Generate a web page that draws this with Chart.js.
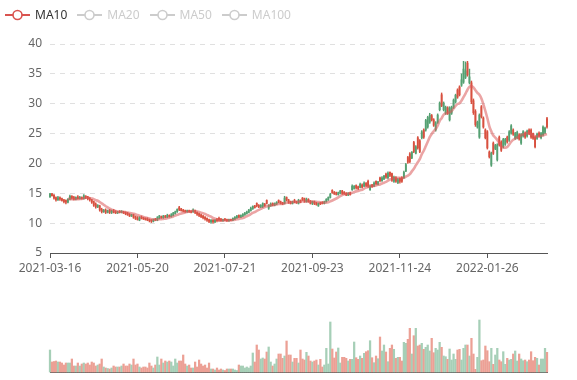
<!DOCTYPE html>
<html><head><meta charset="utf-8">
<script src="https://cdn.jsdelivr.net/npm/chart.js@4.4.1/dist/chart.umd.min.js"></script>
<style>
html,body{margin:0;padding:0;background:#fff;}
#wrap{position:relative;width:577px;height:380px;overflow:hidden;font-family:"Noto Sans",sans-serif;}
#price{position:absolute;left:0;top:0;}
#vol{position:absolute;left:0;top:300px;}
#legend{position:absolute;left:5px;top:8px;height:14px;display:flex;gap:10px;align-items:center;font-size:12px;}
.item{display:flex;align-items:center;height:14px;line-height:14px;}
.item svg{margin-right:5px;display:block;}
</style></head><body>
<div id="wrap">
<canvas id="price" width="577" height="290"></canvas>
<canvas id="vol" width="577" height="80"></canvas>
<div id="legend"></div>
</div>
<script>
// ---- data ----
const tickLabels = ['2021-03-16','2021-05-20','2021-07-21','2021-09-23','2021-11-24','2022-01-26'];
const maNames = ['MA10','MA20','MA50','MA100'];
const maVisible = [true,false,false,false];

const opens = [
14.4,14.9,14.7,14.3,13.9,14.3,14.1,13.9,13.8,13.5,
14.0,14.5,14.3,14.0,14.4,14.1,14.3,14.1,14.5,14.4,
14.2,13.9,13.6,13.2,12.7,12.9,12.3,11.9,12.2,11.8,
12.2,11.8,12.1,11.9,11.7,12.0,11.8,11.9,11.8,11.7,
11.5,11.2,11.4,11.1,10.9,10.5,11.0,10.9,10.8,10.7,
10.6,10.5,10.3,10.7,10.5,10.8,11.1,10.9,11.2,11.0,
11.3,11.1,11.3,11.6,11.9,12.6,12.4,12.2,12.1,11.9,
12.1,12.0,11.9,12.1,11.8,11.6,11.4,11.2,11.0,10.8,
10.6,10.2,10.5,10.2,10.6,10.8,10.7,10.4,10.7,10.6,
10.4,10.6,10.5,10.7,10.9,11.3,11.0,11.2,11.4,11.6,
11.8,12.1,12.4,12.9,13.3,13.0,12.7,12.8,13.2,13.8,
12.5,12.9,13.3,13.0,13.2,13.8,13.6,13.4,13.3,14.3,
13.9,13.6,13.3,13.8,13.6,13.3,13.8,14.2,14.1,13.6,
14.0,13.7,13.3,13.6,13.4,12.9,13.4,13.5,13.3,13.6,
13.9,14.3,15.5,15.2,15.1,14.8,15.0,15.4,15.2,15.0,
14.7,15.1,15.6,15.8,16.3,16.1,16.0,16.4,16.2,16.7,
17.0,15.6,16.4,16.2,17.0,16.5,17.6,17.1,17.4,18.2,
17.6,18.5,18.3,17.0,17.6,16.8,17.5,17.6,17.6,18.7,
21.0,21.6,20.9,23.5,21.7,24.3,23.8,24.3,25.6,25.6,
26.1,26.9,28.0,27.3,25.6,26.9,29.0,31.5,29.0,28.4,
29.3,27.3,28.4,29.4,30.3,32.3,32.8,33.1,33.6,34.4,
36.8,33.5,33.5,30.5,28.7,26.1,24.4,29.5,27.6,25.6,
25.3,21.9,19.7,23.4,22.5,20.6,24.4,23.6,22.8,23.2,
24.4,23.9,25.1,25.6,24.2,24.3,24.8,23.4,24.6,25.1,
24.6,25.6,25.6,25.0,24.4,24.2,25.1,24.3,24.8,25.2,
27.5];

const closes = [
14.9,14.6,14.2,13.9,14.3,14.0,13.8,13.6,13.5,14.0,
14.5,14.2,14.0,14.3,14.1,14.3,14.1,14.6,14.3,14.1,
13.9,13.5,13.0,12.7,13.0,12.2,11.9,12.2,11.8,12.1,
11.8,12.0,11.8,11.7,11.9,11.8,12.0,11.7,11.6,11.4,
11.2,11.4,11.0,10.8,10.6,10.9,10.8,10.7,10.6,10.5,
10.4,10.3,10.6,10.5,10.9,11.2,10.9,11.2,11.0,11.3,
11.1,11.4,11.7,11.9,12.3,12.3,12.1,12.0,11.9,12.1,
11.9,11.8,12.2,11.8,11.5,11.3,11.1,10.9,10.7,10.5,
10.3,10.5,10.2,10.5,10.4,10.5,10.4,10.6,10.5,10.4,
10.6,10.5,10.8,11.0,11.2,11.0,11.3,11.5,11.7,11.9,
12.2,12.5,12.8,12.6,12.9,12.7,13.0,13.3,12.9,13.3,
13.0,13.2,13.0,13.3,13.5,13.5,13.3,13.2,14.2,13.9,
13.5,13.3,13.6,13.5,13.4,13.8,13.5,13.9,13.7,14.0,
13.6,13.3,13.6,13.3,13.1,13.3,13.2,13.3,13.6,14.0,
14.3,14.8,15.1,14.9,14.8,15.1,15.4,15.0,14.9,14.7,
15.0,14.8,16.2,16.2,15.9,15.8,16.5,16.0,16.7,16.3,
16.2,16.2,16.1,16.7,16.6,16.9,17.1,17.6,17.9,17.7,
18.4,18.0,17.2,17.7,17.0,17.3,17.0,17.0,18.5,19.8,
20.2,20.3,21.9,22.0,22.8,22.6,22.0,25.3,24.4,27.2,
27.7,28.1,27.3,26.4,26.8,28.1,30.1,29.7,30.1,29.4,
28.4,29.3,29.4,30.6,31.4,31.1,31.5,34.0,35.8,35.5,
34.8,34.5,30.3,28.5,26.5,26.9,28.1,27.8,26.1,24.3,
22.6,21.1,21.7,21.7,23.0,23.1,23.1,22.2,24.0,24.0,
23.6,25.3,26.3,24.9,25.0,25.2,24.1,24.8,25.3,24.4,
25.4,25.0,24.4,24.2,22.8,24.9,24.6,25.0,26.1,25.9,
26.1];

const lows = [
14.3,14.5,14.0,13.7,13.8,13.8,13.7,13.4,13.2,13.4,
13.9,14.0,13.9,13.9,14.0,14.0,14.0,14.0,14.1,13.9,
13.7,13.3,12.8,12.5,12.6,12.0,11.7,11.8,11.6,11.7,
11.6,11.6,11.7,11.6,11.6,11.7,11.7,11.6,11.4,11.3,
11.1,11.1,10.8,10.6,10.5,10.4,10.7,10.6,10.5,10.4,
10.2,10.1,10.2,10.4,10.4,10.7,10.8,10.8,10.9,10.9,
11.0,11.0,11.2,11.5,11.8,12.1,12.0,11.9,11.8,11.8,
11.8,11.7,11.8,11.6,11.3,11.1,10.9,10.7,10.5,10.3,
10.1,10.0,10.0,10.1,10.2,10.3,10.3,10.3,10.4,10.3,
10.3,10.4,10.4,10.6,10.8,10.9,10.9,11.1,11.3,11.5,
11.7,12.0,12.3,12.5,12.7,12.6,12.6,12.6,12.8,13.2,
12.3,12.8,12.9,12.9,13.1,13.4,13.2,13.1,13.2,13.7,
13.3,13.2,13.2,13.4,13.3,13.2,13.4,13.8,13.5,13.5,
13.5,13.2,13.1,13.1,13.0,12.8,13.1,13.2,13.2,13.5,
13.8,14.2,15.0,14.8,14.7,14.7,14.9,14.8,14.8,14.6,
14.6,14.7,15.5,15.7,15.7,15.6,15.9,15.9,16.1,16.1,
16.0,15.5,16.0,16.1,16.4,16.4,16.9,17.0,17.3,17.5,
17.4,17.8,17.0,16.8,16.8,16.6,16.7,16.8,17.5,18.6,
20.0,20.1,20.8,21.8,21.6,22.4,21.8,24.1,24.2,25.4,
25.9,26.7,27.1,26.2,25.4,26.7,28.8,29.5,28.8,28.2,
28.2,27.1,28.2,29.2,30.1,30.9,31.3,32.9,33.4,34.2,
34.6,33.3,30.0,28.2,26.2,25.9,24.2,27.6,25.9,24.1,
22.4,20.9,19.5,21.5,22.3,20.4,22.9,22.0,22.6,23.0,
23.4,23.7,24.9,24.7,24.0,24.1,23.9,23.2,24.4,24.2,
24.4,24.8,24.2,24.0,22.6,24.0,24.4,24.1,24.6,25.0,
25.9];

const highs = [
15.0,15.0,14.8,14.4,14.5,14.4,14.2,14.0,13.9,14.1,
14.7,14.6,14.5,14.4,14.6,14.5,14.4,14.8,14.6,14.5,
14.3,14.0,13.7,13.4,13.1,13.0,12.5,12.3,12.4,12.2,
12.3,12.2,12.3,12.1,12.0,12.1,12.1,12.0,11.9,11.8,
11.6,11.5,11.5,11.2,11.1,11.1,11.2,11.0,10.9,10.9,
10.7,10.6,10.7,10.8,11.1,11.3,11.2,11.3,11.3,11.5,
11.4,11.6,11.8,12.0,12.4,12.8,12.5,12.3,12.2,12.2,
12.2,12.1,12.4,12.2,11.9,11.7,11.5,11.3,11.1,10.9,
10.7,10.6,10.6,10.6,10.8,11.0,10.8,10.7,10.8,10.7,
10.7,10.7,10.9,11.1,11.3,11.4,11.4,11.6,11.8,12.0,
12.3,12.7,12.9,13.0,13.4,13.1,13.1,13.4,13.3,13.9,
13.1,13.4,13.4,13.4,13.6,13.9,13.7,13.5,14.5,14.4,
14.0,13.7,13.7,14.0,13.7,14.0,13.9,14.3,14.2,14.2,
14.1,13.8,13.7,13.7,13.5,13.4,13.5,13.6,13.7,14.1,
14.4,15.0,15.6,15.3,15.2,15.2,15.5,15.5,15.3,15.1,
15.1,15.2,16.4,16.3,16.4,16.2,16.7,16.6,16.9,16.8,
17.2,16.4,16.5,16.9,17.1,17.0,17.7,17.8,18.0,18.4,
18.6,18.6,18.4,17.9,17.8,17.5,17.6,17.8,18.7,20.0,
21.2,21.8,22.0,23.7,23.0,24.5,24.0,25.5,25.8,27.4,
27.9,28.4,28.2,27.5,27.0,28.3,30.3,31.8,30.3,29.6,
29.5,29.5,29.6,30.8,31.6,32.5,33.0,35.0,37.1,37.0,
37.1,35.8,33.8,30.8,29.0,27.1,28.3,29.7,27.8,25.8,
25.5,22.1,21.9,23.6,23.2,23.3,24.6,23.8,24.2,24.2,
24.6,25.5,26.5,25.8,25.2,25.4,25.0,25.0,25.5,25.3,
25.6,25.8,25.8,25.1,24.6,25.1,25.3,25.2,26.3,26.1,
27.7];

const volumes = [
22,10,10.5,11,10,10,9,7,9,9,
9,13,6,6,9,6,8,9,8,9,
7,10,9,6,7,8,13,5,4,3.5,
3,4,6,5,5,5,6,8,6,6,
8,7,13,7,8,5,4,5,5,4,
9,6,4,7,15,7,13,9,11,10,
11,10,6,13,9,11,11,17,8,6,
7,4,4,10,5,12,8,6,7,4,
9,3,3,2,4,2,3,2,1.5,3,
3,3,3,2,1.5,7,6,6,4,5,
4,6,19,10,27,22,13,14,13,20,
25,10,6,8,13,18,18,13.7,16,31,
17,17,10,13.7,13.7,9,22,13,12,19.7,
16,11,10,11,12,7,12.7,5,7,23.7,
8,50,23,14,20,24,9,14.7,14.7,13.7,
11,12.7,12.7,30,14.3,12.7,16,13.7,18.7,20.3,
21.3,31.3,14.3,9.3,16,13.3,35,21,27,20,
10.3,23.7,27,22.7,13.7,14.7,14.7,11,29.7,28.7,
32.7,43.7,18,36.3,43.7,26,27,28.7,22.7,24.7,
27,21,33.7,19.3,23.7,22,29.7,24.7,16,15.3,
12.7,23,12,18,12.7,22,22.7,12,23.7,27,
27,16,33.7,18,2.7,14.7,52,11.3,12,26,
21.3,10.3,23.7,7.7,17,23.7,12,10.3,20.3,7.7,
13.7,12,12.7,18,21,11,18,13,11.3,12,
10.3,12,20.3,11.3,14.7,13.7,7,13,13,23.7,
19.7];

// ---- derived ----
const categories = closes.map((_, i) => i);
const isUp = closes.map((c, i) => c >= opens[i]);
const UP = '#55a072', DOWN = '#d8503f';
const UPV = '#a6cfb7', DOWNV = '#eca095';
const candleColors = isUp.map(u => u ? UP : DOWN);
const volColors = isUp.map(u => u ? UPV : DOWNV);
// MA10 of the closes, as the original chart computes it
const ma10 = closes.map((_, i) => {
  if (i < 9) return null;
  let s = 0; for (let k = i - 9; k <= i; k++) s += closes[k];
  return s / 10;
});

Chart.defaults.font.family = "'Noto Sans', sans-serif";
Chart.defaults.font.size = 12;

// legend (HTML)
const leg = document.getElementById('legend');
maNames.forEach((n, k) => {
  const c = maVisible[k] ? '#d9534f' : '#cccccc';
  const d = document.createElement('div');
  d.className = 'item';
  d.innerHTML = '<svg width="25" height="14"><line x1="0" y1="7" x2="25" y2="7" stroke="' + c + '" stroke-width="2"/>' +
    '<circle cx="12.5" cy="7" r="4.5" fill="#fff" stroke="' + c + '" stroke-width="1.6"/></svg>' +
    '<span style="color:' + (maVisible[k] ? '#333' : '#ccc') + '">' + n + '</span>';
  leg.appendChild(d);
});

new Chart(document.getElementById('price'), {
  type: 'bar',
  data: {
    labels: categories,
    datasets: [
      { type: 'line', label: 'MA10', data: ma10, borderColor: 'rgba(218,90,90,0.55)', borderWidth: 2.6,
        pointRadius: 0, cubicInterpolationMode: 'monotone', order: 0, clip: false },
      { label: 'body', data: closes.map((c, i) => [Math.min(opens[i], c), Math.max(opens[i], c) + 0.0001]),
        backgroundColor: candleColors, barThickness: 1.2, grouped: false, order: 1, clip: false },
      { label: 'wick', data: lows.map((l, i) => [l, highs[i]]),
        backgroundColor: candleColors, barThickness: 0.8, grouped: false, order: 2, clip: false }
    ]
  },
  options: {
    responsive: false, animation: false, events: [],
    layout: { padding: { top: 44, left: 0, right: 30, bottom: 0 } },
    plugins: { legend: { display: false }, tooltip: { enabled: false } },
    scales: {
      x: {
        offset: false,
        grid: { offset: false, drawOnChartArea: false, tickLength: 5, color: '#555' },
        border: { color: '#555' },
        ticks: { autoSkip: false, maxRotation: 0, minRotation: 0, padding: 3, color: '#666',
          callback: (v, i) => (i % 44 === 0 && tickLabels[i / 44]) ? tickLabels[i / 44] : null },
        afterFit: s => { s.height = 37; s.paddingLeft = 0; s.paddingRight = 0; }
      },
      y: {
        min: 5, max: 40,
        ticks: { stepSize: 5, padding: 8, color: '#666' },
        grid: { color: '#e0e0e0', drawTicks: false },
        border: { display: false, dash: [5, 5] },
        afterFit: s => { s.width = 50; s.paddingTop = 0; s.paddingBottom = 0; }
      }
    }
  }
});

new Chart(document.getElementById('vol'), {
  type: 'bar',
  data: { labels: categories, datasets: [
    { label: 'Volume', data: volumes, backgroundColor: volColors, barThickness: 1.6, clip: false }
  ] },
  options: {
    responsive: false, animation: false, events: [],
    layout: { padding: { top: 17, left: 50, right: 30, bottom: 0 } },
    plugins: { legend: { display: false }, tooltip: { enabled: false } },
    scales: {
      x: { offset: false, grid: { display: false, offset: false }, ticks: { display: false },
           border: { color: '#555' },
           afterFit: s => { s.height = 8; s.paddingLeft = 0; s.paddingRight = 0; } },
      y: { display: false, min: 0, max: 55 }
    }
  }
});
</script>
</body></html>
